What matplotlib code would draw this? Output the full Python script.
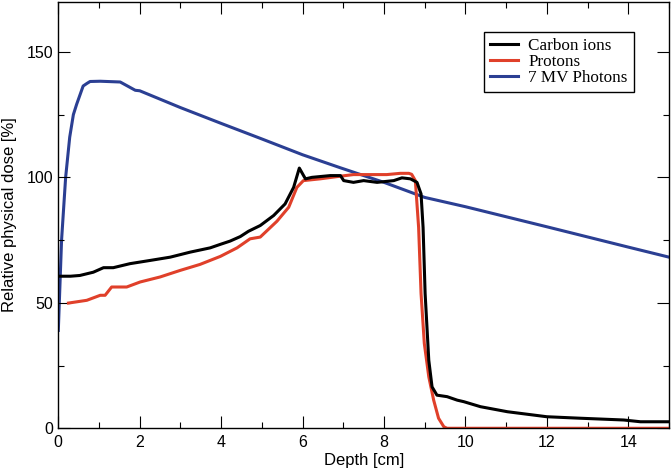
import numpy as np
import matplotlib
matplotlib.use("Agg")
import matplotlib.pyplot as plt
from matplotlib.ticker import MultipleLocator

plt.rcParams['font.family'] = 'Liberation Sans'

# depth [cm] / relative dose [%]
carbon_x = [0.0, 0.3, 0.53, 0.86, 1.11, 1.35, 1.76, 2.26, 2.75, 3.24, 3.73, 3.98,
            4.22, 4.47, 4.67, 4.96, 5.29, 5.57, 5.78, 5.92, 6.07, 6.23, 6.68, 6.93,
            7.01, 7.25, 7.5, 7.83, 8.24, 8.44, 8.65, 8.81, 8.91, 8.96, 9.01, 9.10,
            9.18, 9.30, 9.55, 9.80, 9.96, 10.37, 11.03, 12.0, 12.83, 13.89, 14.3, 15.0]
carbon_y = [60.6, 60.6, 60.9, 62.2, 64.0, 64.0, 65.6, 66.9, 68.2, 70.2, 71.9, 73.3,
            74.6, 76.4, 78.5, 80.8, 84.8, 89.4, 96.0, 103.7, 99.4, 100.0, 100.7, 100.7,
            98.7, 98.0, 98.7, 98.0, 98.7, 99.8, 99.4, 98.0, 93.4, 80.0, 53.7, 27.1,
            16.5, 13.2, 12.6, 11.2, 10.6, 8.6, 6.6, 4.6, 4.0, 3.3, 2.6, 2.6]

proton_x = [0.25, 0.70, 1.03, 1.15, 1.31, 1.68, 2.01, 2.5, 2.99, 3.48, 3.98, 4.39,
            4.71, 4.96, 5.37, 5.66, 5.86, 6.02, 6.43, 6.85, 7.25, 8.07, 8.40, 8.61,
            8.68, 8.77, 8.85, 8.91, 8.99, 9.10, 9.22, 9.34, 9.47, 9.55, 15.0]
proton_y = [49.9, 51.0, 53.0, 53.0, 56.3, 56.3, 58.3, 60.3, 62.9, 65.3, 68.5, 71.9,
            75.5, 76.2, 82.5, 88.1, 96.0, 98.7, 99.4, 100.3, 101.1, 101.1, 101.6, 101.6,
            101.2, 98.7, 80.1, 53.7, 33.8, 20.5, 11.2, 4.0, 0.6, 0.0, 0.0]

photon_x = [0.0, 0.08, 0.18, 0.28, 0.37, 0.45, 0.61, 0.70, 0.78, 1.03, 1.52, 1.89,
            2.0, 3.0, 4.0, 5.0, 6.0, 6.93, 8.0, 9.0, 10.0, 12.0, 14.0, 15.0]
photon_y = [39.0, 75.0, 100.0, 116.0, 125.0, 129.1, 136.4, 137.4, 138.2, 138.3, 138.0, 134.7,
            134.5, 127.8, 121.5, 115.3, 109.0, 103.8, 98.0, 92.0, 88.3, 80.3, 72.2, 68.2]

fig = plt.figure(figsize=(6.71, 4.71), dpi=100)
ax = fig.add_axes([0.0869, 0.0907, 0.9101, 0.9057])

ax.plot(carbon_x, carbon_y, color='black', lw=2.2, label='Carbon ions', zorder=3)
ax.plot(proton_x, proton_y, color='#e0402a', lw=2.2, label='Protons', zorder=2)
ax.plot(photon_x, photon_y, color='#2b3f93', lw=2.2, label='7 MV Photons', zorder=1)

ax.set_xlim(0, 15)
ax.set_ylim(0, 170)
ax.xaxis.set_major_locator(MultipleLocator(2))
ax.xaxis.set_minor_locator(MultipleLocator(1))
ax.yaxis.set_major_locator(MultipleLocator(50))
ax.yaxis.set_minor_locator(MultipleLocator(25))
ax.tick_params(which='both', direction='in', top=True, right=True, labelsize=11.5, width=0.8)
ax.tick_params(which='major', length=8.4)
ax.tick_params(axis='x', which='major', pad=4.5)
ax.tick_params(axis='y', which='major', pad=3.5)
ax.tick_params(which='minor', length=4.3)
for s in ax.spines.values():
    s.set_linewidth(1.0)

ax.set_xlabel('Depth [cm]', fontsize=12, labelpad=2.5)
ax.set_ylabel('Relative physical dose [%]', fontsize=12, labelpad=7)

leg = ax.legend(loc='upper left', bbox_to_anchor=(484 / 671, 1 - 32 / 471),
                bbox_transform=fig.transFigure, fancybox=False, framealpha=1,
                edgecolor='black', prop={'family': 'Liberation Serif', 'size': 12.3},
                handlelength=1.65, handletextpad=0.6, labelspacing=0.0,
                borderpad=0.35, borderaxespad=0)
leg.get_frame().set_linewidth(1.0)

fig.savefig('out.png', dpi=100)
